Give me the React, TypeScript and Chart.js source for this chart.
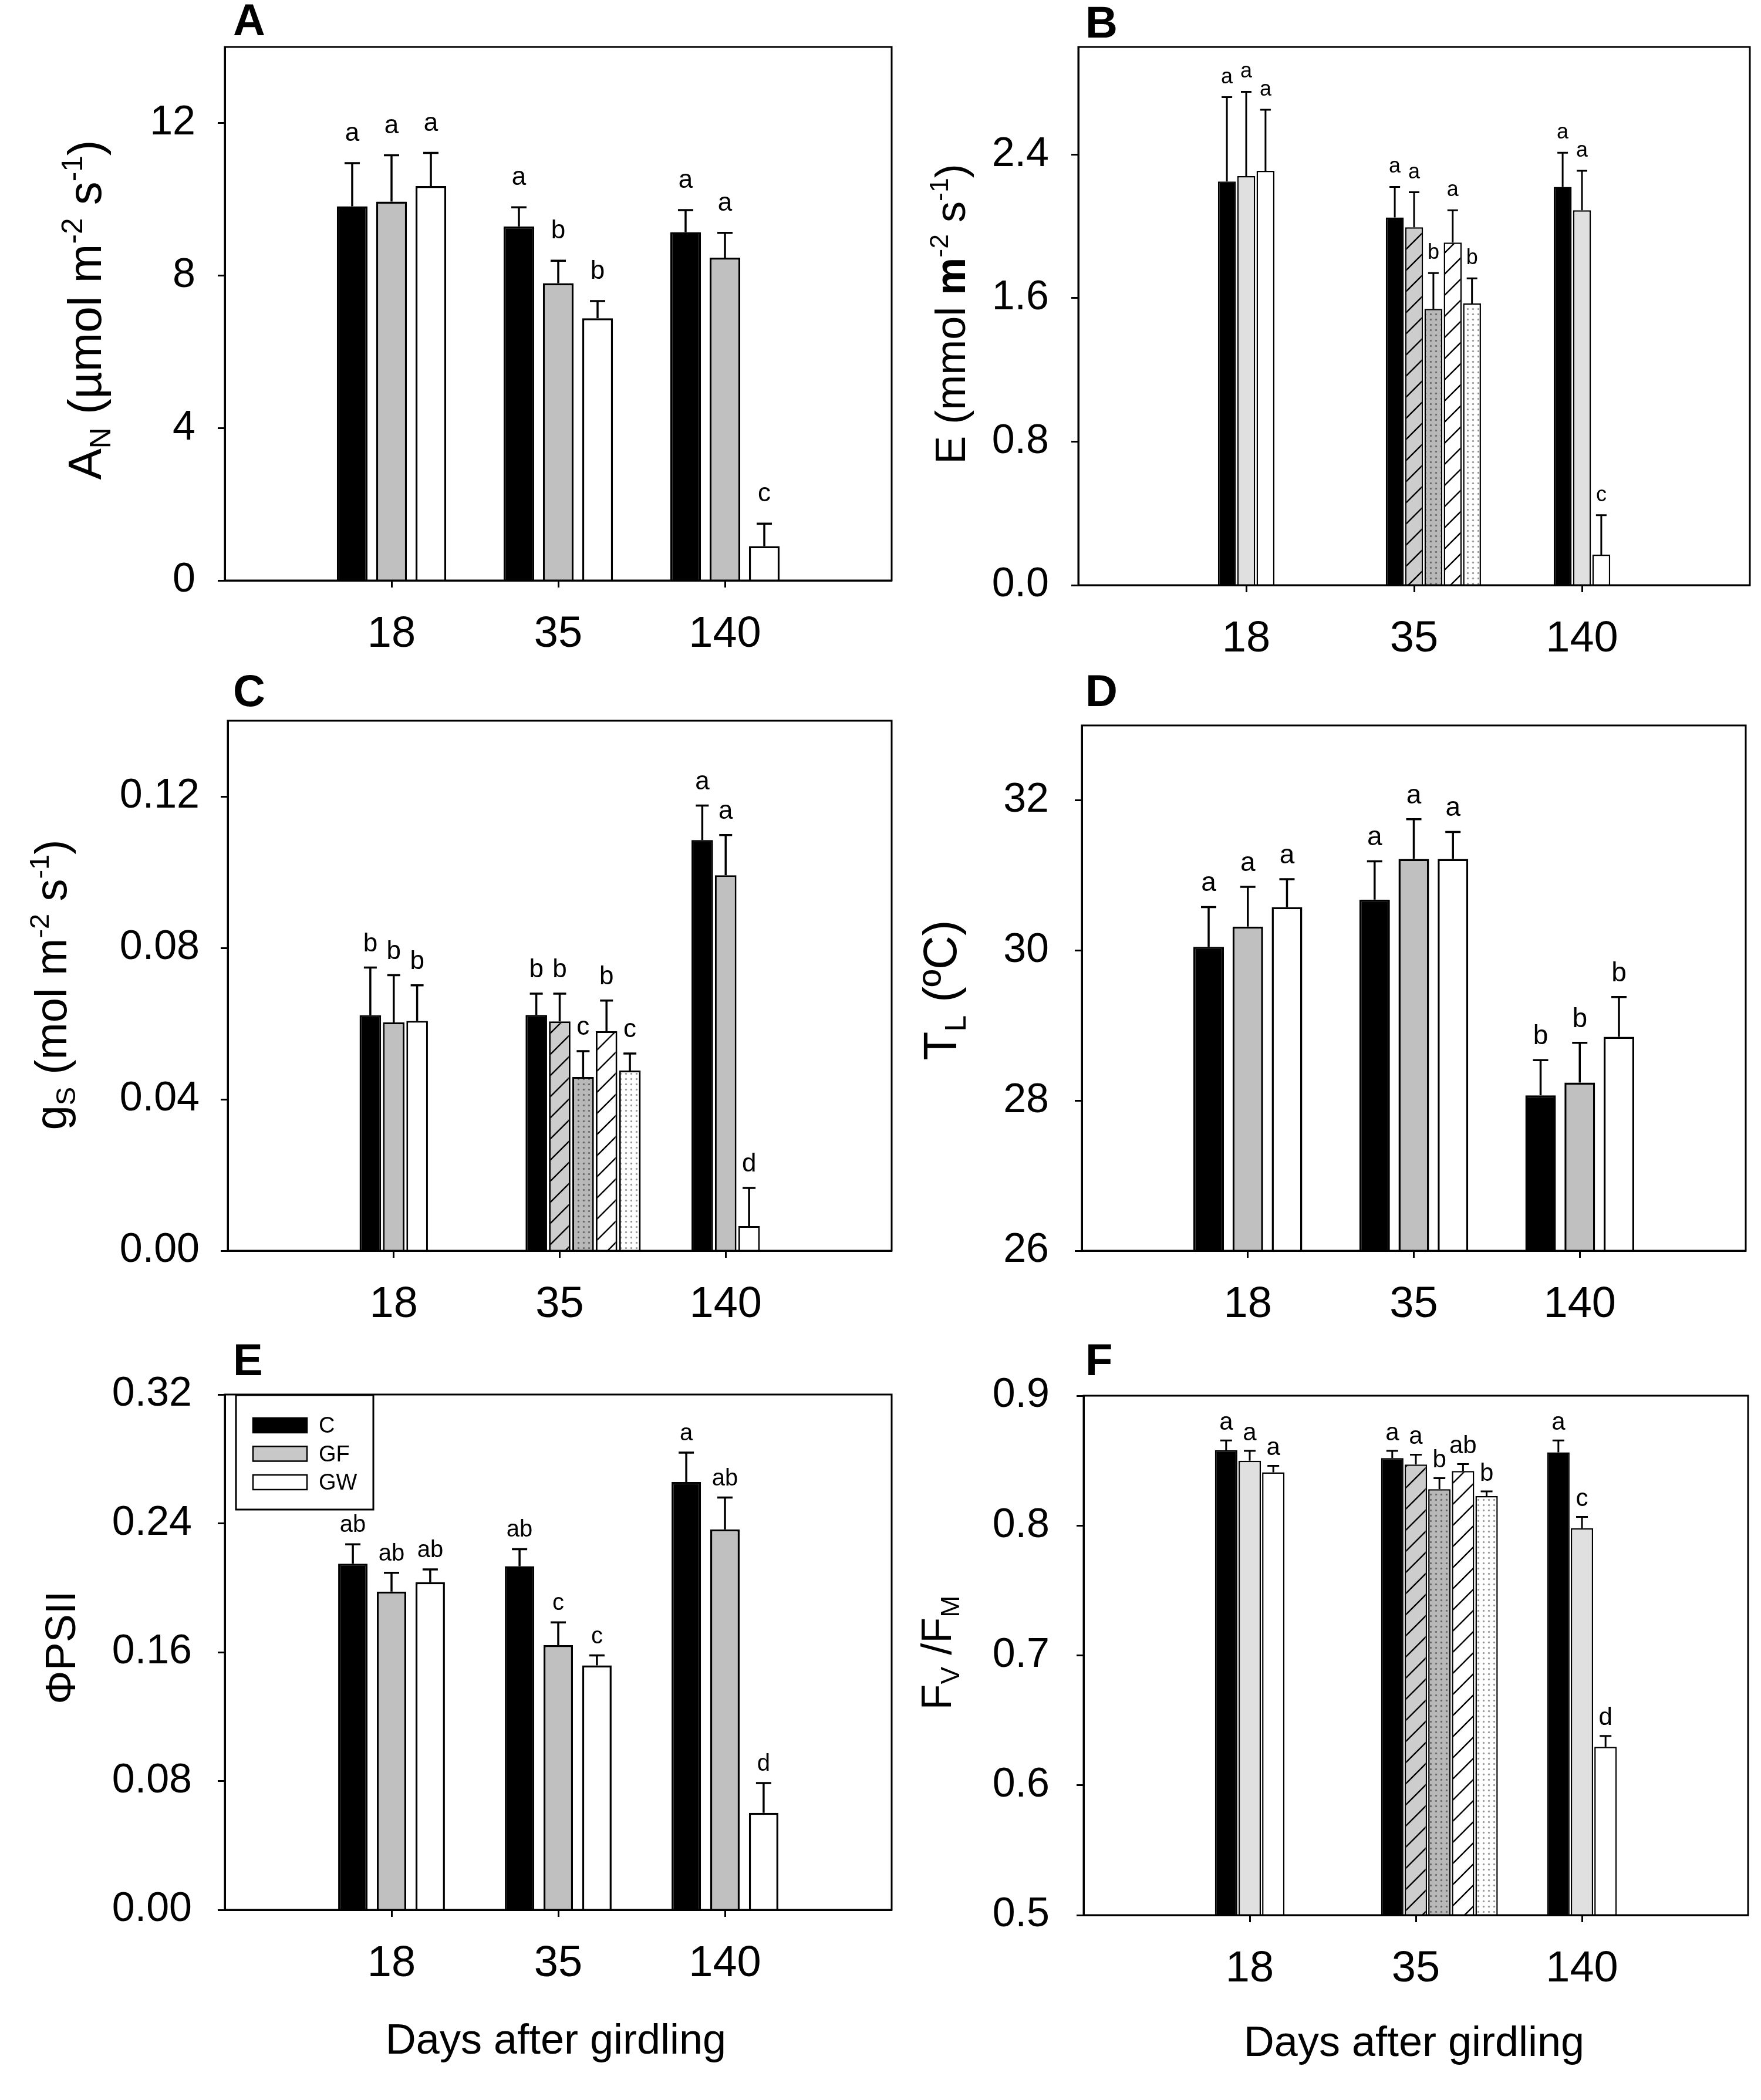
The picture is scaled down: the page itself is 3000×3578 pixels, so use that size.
'use client'
import React, { useEffect, useRef } from 'react'
import Chart from 'chart.js/auto'

const FONT = '"Liberation Sans", Arial, sans-serif'
const NARROW = '"Liberation Sans Narrow", "Liberation Sans", Arial, sans-serif'

const days = ['18', '35', '140']

// A - net assimilation
const anTicks = [0, 4, 8, 12]
const anTickLabels = ['0', '4', '8', '12']
const anC = [9.82, 9.29, 9.14]
const anCErr = [1.13, 0.5, 0.58]
const anCSig = ['a', 'a', 'a']
const anGF = [9.94, 7.8, 8.47]
const anGFErr = [1.22, 0.59, 0.65]
const anGFSig = ['a', 'b', 'a']
const anGW = [10.35, 6.88, 0.9]
const anGWErr = [0.87, 0.45, 0.59]
const anGWSig = ['a', 'b', 'c']

// B - transpiration
const eTicks = [0, 0.8, 1.6, 2.4]
const eTickLabels = ['0.0', '0.8', '1.6', '2.4']
const eC = [2.25, 2.05, 2.22]
const eCErr = [0.47, 0.17, 0.19]
const eCSig = ['a', 'a', 'a']
const eGF = [2.28, null, 2.09]
const eGFErr = [0.47, null, 0.22]
const eGFSig = ['a', '', 'a']
const eGW = [2.31, null, 0.17]
const eGWErr = [0.34, null, 0.22]
const eGWSig = ['a', '', 'c']
// day 35 split: GF hatched, GF dotted, GW hatched, GW dotted
const eSplit = [1.995, 1.54, 1.91, 1.57]
const eSplitErr = [0.195, 0.2, 0.18, 0.14]
const eSplitSig = ['a', 'b', 'a', 'b']

// C - stomatal conductance
const gsTicks = [0, 0.04, 0.08, 0.12]
const gsTickLabels = ['0.00', '0.04', '0.08', '0.12']
const gsC = [0.0622, 0.0623, 0.1085]
const gsCErr = [0.0126, 0.0056, 0.0091]
const gsCSig = ['b', 'b', 'a']
const gsGF = [0.0603, null, 0.0992]
const gsGFErr = [0.0125, null, 0.0106]
const gsGFSig = ['b', '', 'a']
const gsGW = [0.0607, null, 0.0065]
const gsGWErr = [0.0094, null, 0.0101]
const gsGWSig = ['b', '', 'd']
const gsSplit = [0.0606, 0.0459, 0.058, 0.0476]
const gsSplitErr = [0.0073, 0.0068, 0.0081, 0.0045]
const gsSplitSig = ['b', 'c', 'b', 'c']

// D - leaf temperature
const tlTicks = [26, 28, 30, 32]
const tlTickLabels = ['26', '28', '30', '32']
const tlC = [30.05, 30.68, 28.07]
const tlCErr = [0.53, 0.51, 0.47]
const tlCSig = ['a', 'a', 'b']
const tlGF = [30.32, 31.22, 28.24]
const tlGFErr = [0.53, 0.53, 0.53]
const tlGFSig = ['a', 'a', 'b']
const tlGW = [30.58, 31.22, 28.85]
const tlGWErr = [0.37, 0.36, 0.53]
const tlGWSig = ['a', 'a', 'b']

// E - PSII efficiency
const psTicks = [0, 0.08, 0.16, 0.24, 0.32]
const psTickLabels = ['0.00', '0.08', '0.16', '0.24', '0.32']
const psC = [0.2149, 0.2134, 0.2657]
const psCErr = [0.0121, 0.0106, 0.0182]
const psCSig = ['ab', 'ab', 'a']
const psGF = [0.1976, 0.1644, 0.2363]
const psGFErr = [0.0117, 0.0141, 0.0197]
const psGFSig = ['ab', 'c', 'ab']
const psGW = [0.2035, 0.1518, 0.0602]
const psGWErr = [0.0079, 0.0062, 0.0185]
const psGWSig = ['ab', 'c', 'd']

// F - Fv/Fm
const fvTicks = [0.5, 0.6, 0.7, 0.8, 0.9]
const fvTickLabels = ['0.5', '0.6', '0.7', '0.8', '0.9']
const fvC = [0.858, 0.852, 0.8564]
const fvCErr = [0.0075, 0.0055, 0.0091]
const fvCSig = ['a', 'a', 'a']
const fvGF = [0.85, null, 0.798]
const fvGFErr = [0.0075, null, 0.0087]
const fvGFSig = ['a', '', 'c']
const fvGW = [0.841, null, 0.6296]
const fvGWErr = [0.005, null, 0.0084]
const fvGWSig = ['a', '', 'd']
const fvSplit = [0.847, 0.828, 0.842, 0.8227]
const fvSplitErr = [0.0076, 0.0085, 0.0054, 0.0036]
const fvSplitSig = ['a', 'b', 'ab', 'b']

const legendNames = ['C', 'GF', 'GW']

type Part = { t: string; s?: 'sub' | 'sup'; b?: boolean }
type Pt = { day: number; slot: number; y: number; err: number; sig: string }
type SeriesDef = { label: string; fill: string; pts: Pt[] }

interface PanelDef {
    letter: string
    frame: [number, number, number, number]
    plot: [number, number, number, number]
    yMin: number
    yMax: number
    ticks: number[]
    tickLabels: string[]
    tickPad: number
    title: Part[]
    titleSize: number
    titleX: number
    titleY: number
    letterX: number
    letterY: number
    gray: string
    step: number
    barRatio: number
    barBorder: number
    cap: number
    errWidth: number
    sigSize: number
    sigGap: number
    series: SeriesDef[]
    xTitle?: [number, number]
    legend?: boolean
}

const splitFills = ['hatchGray', 'dotGray', 'hatchWhite', 'dotWhite']

function plain(label: string, values: (number | null)[], errs: (number | null)[], sigs: string[], fill: string, slot: number): SeriesDef {
    return {
        label,
        fill,
        pts: values.flatMap((v, i) => (v == null ? [] : [{ day: i, slot, y: v, err: errs[i] ?? 0, sig: sigs[i] }]))
    }
}

function split(prefix: string, values: number[], errs: number[], sigs: string[]): SeriesDef[] {
    return values.map((v, k) => ({
        label: prefix + ' ' + splitFills[k],
        fill: splitFills[k],
        pts: [{ day: 1, slot: k, y: v, err: errs[k], sig: sigs[k] }]
    }))
}

const panels: PanelDef[] = [
    {
        letter: 'A', frame: [0, 0, 1560, 1150], plot: [383, 72, 1519, 989],
        yMin: 0, yMax: 14, ticks: anTicks, tickLabels: anTickLabels, tickPad: 38,
        title: [{ t: 'A' }, { t: 'N', s: 'sub' }, { t: ' (\u00b5mol m' }, { t: '-2', s: 'sup' }, { t: ' s' }, { t: '-1', s: 'sup' }, { t: ')' }],
        titleSize: 80, titleX: 172, titleY: 528, letterX: 397, letterY: 60,
        gray: '#c0c0c0', step: 0.236, barRatio: 0.78, barBorder: 3.5, cap: 26, errWidth: 3.5, sigSize: 44, sigGap: 50,
        series: [
            plain('C', anC, anCErr, anCSig, 'black', -1),
            plain('GF', anGF, anGFErr, anGFSig, 'gray', 0),
            plain('GW', anGW, anGWErr, anGWSig, 'white', 1)
        ]
    },
    {
        letter: 'B', frame: [1560, 0, 1440, 1150], plot: [1837, 76, 2981, 997],
        yMin: 0, yMax: 3, ticks: eTicks, tickLabels: eTickLabels, tickPad: 38,
        title: [{ t: 'E (mmol ' }, { t: 'm', b: true }, { t: '-2', s: 'sup' }, { t: ' s' }, { t: '-1', s: 'sup' }, { t: ')' }],
        titleSize: 72, titleX: 1644, titleY: 535, letterX: 1849, letterY: 64,
        gray: '#e0e0e0', step: 0.115, barRatio: 0.93, barBorder: 2.5, cap: 18, errWidth: 3, sigSize: 36, sigGap: 34,
        series: [
            plain('C', eC, eCErr, eCSig, 'black', -1),
            plain('GF', eGF, eGFErr, eGFSig, 'gray', 0),
            plain('GW', eGW, eGWErr, eGWSig, 'white', 1),
            ...split('35', eSplit, eSplitErr, eSplitSig)
        ]
    },
    {
        letter: 'C', frame: [0, 1150, 1560, 1140], plot: [388, 1216, 1519, 2131],
        yMin: 0, yMax: 0.14, ticks: gsTicks, tickLabels: gsTickLabels, tickPad: 36,
        title: [{ t: 'g' }, { t: 'S', s: 'sub' }, { t: ' (mol m' }, { t: '-2', s: 'sup' }, { t: ' s' }, { t: '-1', s: 'sup' }, { t: ')' }],
        titleSize: 76, titleX: 113, titleY: 1678, letterX: 397, letterY: 1203,
        gray: '#c0c0c0', step: 0.141, barRatio: 0.92, barBorder: 3, cap: 22, errWidth: 3.5, sigSize: 44, sigGap: 40,
        series: [
            plain('C', gsC, gsCErr, gsCSig, 'black', -1),
            plain('GF', gsGF, gsGFErr, gsGFSig, 'gray', 0),
            plain('GW', gsGW, gsGWErr, gsGWSig, 'white', 1),
            ...split('35', gsSplit, gsSplitErr, gsSplitSig)
        ]
    },
    {
        letter: 'D', frame: [1560, 1150, 1440, 1140], plot: [1843, 1216, 2974, 2131],
        yMin: 26, yMax: 33, ticks: tlTicks, tickLabels: tlTickLabels, tickPad: 44,
        title: [{ t: 'T' }, { t: 'L', s: 'sub' }, { t: ' (\u00baC)' }],
        titleSize: 80, titleX: 1629, titleY: 1687, letterX: 1849, letterY: 1203,
        gray: '#c0c0c0', step: 0.236, barRatio: 0.78, barBorder: 3.5, cap: 26, errWidth: 3.5, sigSize: 46, sigGap: 40,
        series: [
            plain('C', tlC, tlCErr, tlCSig, 'black', -1),
            plain('GF', tlGF, tlGFErr, tlGFSig, 'gray', 0),
            plain('GW', tlGW, tlGWErr, tlGWSig, 'white', 1)
        ]
    },
    {
        letter: 'E', frame: [0, 2290, 1560, 1288], plot: [383, 2364, 1519, 3254],
        yMin: 0, yMax: 0.32, ticks: psTicks, tickLabels: psTickLabels, tickPad: 44,
        title: [{ t: '\u03a6PSII' }],
        titleSize: 72, titleX: 128, titleY: 2807, letterX: 397, letterY: 2343,
        gray: '#c0c0c0', step: 0.232, barRatio: 0.76, barBorder: 3.5, cap: 26, errWidth: 3.5, sigSize: 40, sigGap: 32,
        series: [
            plain('C', psC, psCErr, psCSig, 'black', -1),
            plain('GF', psGF, psGFErr, psGFSig, 'gray', 0),
            plain('GW', psGW, psGWErr, psGWSig, 'white', 1)
        ],
        xTitle: [947, 3499], legend: true
    },
    {
        letter: 'F', frame: [1560, 2290, 1440, 1288], plot: [1846, 2365, 2978, 3263],
        yMin: 0.5, yMax: 0.9, ticks: fvTicks, tickLabels: fvTickLabels, tickPad: 46,
        title: [{ t: 'F' }, { t: 'V', s: 'sub' }, { t: ' /F' }, { t: 'M', s: 'sub' }],
        titleSize: 72, titleX: 1620, titleY: 2816, letterX: 1849, letterY: 2343,
        gray: '#e0e0e0', step: 0.142, barRatio: 0.95, barBorder: 2.5, cap: 20, errWidth: 3, sigSize: 42, sigGap: 30,
        series: [
            plain('C', fvC, fvCErr, fvCSig, 'black', -1),
            plain('GF', fvGF, fvGFErr, fvGFSig, 'gray', 0),
            plain('GW', fvGW, fvGWErr, fvGWSig, 'white', 1),
            ...split('35', fvSplit, fvSplitErr, fvSplitSig)
        ],
        xTitle: [2409, 3503]
    }
]

function tile(size: number, paint: (t: CanvasRenderingContext2D, s: number) => void) {
    const c = document.createElement('canvas')
    c.width = size
    c.height = size
    const t = c.getContext('2d') as CanvasRenderingContext2D
    paint(t, size)
    return c
}

function makeFills(ctx: CanvasRenderingContext2D, gray: string): Record<string, any> {
    const hatch = (bg: string) => ctx.createPattern(tile(36, (t, s) => {
        t.fillStyle = bg
        t.fillRect(0, 0, s, s)
        t.strokeStyle = '#000'
        t.lineWidth = 2.4
        t.beginPath()
        t.moveTo(0, s); t.lineTo(s, 0)
        t.moveTo(-s / 2, s / 2); t.lineTo(s / 2, -s / 2)
        t.moveTo(s / 2, s * 1.5); t.lineTo(s * 1.5, s / 2)
        t.stroke()
    }), 'repeat')
    const dots = (bg: string, dot: string) => ctx.createPattern(tile(9, (t, s) => {
        t.fillStyle = bg
        t.fillRect(0, 0, s, s)
        t.fillStyle = dot
        t.beginPath()
        t.arc(s / 2, s / 2, 1.7, 0, Math.PI * 2)
        t.fill()
    }), 'repeat')
    return {
        black: '#000000',
        gray,
        white: '#ffffff',
        hatchGray: hatch('#cdcdcd'),
        dotGray: dots('#b8b8b8', '#6a6a6a'),
        hatchWhite: hatch('#ffffff'),
        dotWhite: dots('#ffffff', '#9a9a9a')
    }
}

function drawRich(ctx: CanvasRenderingContext2D, parts: Part[], size: number) {
    const fontFor = (p: Part) => `${p.b ? 'bold ' : ''}${p.s ? size * 0.62 : size}px ${FONT}`
    const widths = parts.map(p => {
        ctx.font = fontFor(p)
        return ctx.measureText(p.t).width
    })
    let x = -widths.reduce((a, b) => a + b, 0) / 2
    parts.forEach((p, i) => {
        ctx.font = fontFor(p)
        const dy = p.s === 'sub' ? size * 0.2 : p.s === 'sup' ? -size * 0.4 : 0
        ctx.fillText(p.t, x, dy)
        x += widths[i]
    })
}

function decor(def: PanelDef, fills: Record<string, any>) {
    const [cx, cy] = def.frame
    return {
        id: 'decor' + def.letter,
        afterDatasetsDraw(chart: any) {
            const { ctx, chartArea: a } = chart
            const y = chart.scales.y
            ctx.save()
            ctx.strokeStyle = '#000'
            ctx.fillStyle = '#000'
            chart.data.datasets.forEach((ds: any, di: number) => {
                chart.getDatasetMeta(di).data.forEach((bar: any, j: number) => {
                    const p = ds.data[j]
                    const top = y.getPixelForValue(p.y + p.err)
                    ctx.lineWidth = def.errWidth
                    ctx.beginPath()
                    ctx.moveTo(bar.x, bar.y)
                    ctx.lineTo(bar.x, top)
                    ctx.moveTo(bar.x - def.cap / 2, top)
                    ctx.lineTo(bar.x + def.cap / 2, top)
                    ctx.stroke()
                    if (p.sig) {
                        ctx.font = `${def.sigSize}px ${NARROW}`
                        ctx.textAlign = 'center'
                        ctx.textBaseline = 'middle'
                        ctx.fillText(p.sig, bar.x, top - def.sigGap)
                    }
                })
            })
            ctx.lineWidth = 3
            ctx.strokeRect(a.left, a.top, a.right - a.left, a.bottom - a.top)
            ctx.restore()
        },
        afterDraw(chart: any) {
            const ctx: CanvasRenderingContext2D = chart.ctx
            ctx.save()
            ctx.fillStyle = '#000'
            ctx.textBaseline = 'alphabetic'
            ctx.textAlign = 'left'
            // y title, rotated
            ctx.save()
            ctx.translate(def.titleX - cx, def.titleY - cy)
            ctx.rotate(-Math.PI / 2)
            drawRich(ctx, def.title, def.titleSize)
            ctx.restore()
            // panel letter
            ctx.font = `bold 76px ${FONT}`
            ctx.fillText(def.letter, def.letterX - cx, def.letterY - cy)
            if (def.xTitle) {
                ctx.font = `72px ${FONT}`
                ctx.textAlign = 'center'
                ctx.fillText('Days after girdling', def.xTitle[0] - cx, def.xTitle[1] - cy)
            }
            if (def.legend) {
                const bx = 402 - cx
                const by = 2377 - cy
                ctx.lineWidth = 3
                ctx.strokeStyle = '#000'
                ctx.fillStyle = '#fff'
                ctx.fillRect(bx, by, 234, 195)
                ctx.strokeRect(bx, by, 234, 195)
                const swatch = [fills.black, '#c8c8c8', fills.white]
                legendNames.forEach((name, i) => {
                    const rowY = by + 51 + i * 48.5
                    ctx.fillStyle = swatch[i]
                    ctx.fillRect(bx + 29, rowY - 12, 92, 25)
                    ctx.lineWidth = 2.5
                    ctx.strokeRect(bx + 29, rowY - 12, 92, 25)
                    ctx.fillStyle = '#000'
                    ctx.font = `38px ${NARROW}`
                    ctx.textAlign = 'left'
                    ctx.fillText(name, bx + 141, rowY + 13)
                })
            }
            ctx.restore()
        }
    }
}

const Panel: React.FC<{ def: PanelDef }> = ({ def }) => {
    const chartRef = useRef<HTMLCanvasElement>(null)
    const [cx, cy, cw, ch] = def.frame
    const [pl, pt, pr, pb] = def.plot

    useEffect(() => {
        if (!chartRef.current) return
        const ctx = chartRef.current.getContext('2d')
        if (!ctx) return
        const fills = makeFills(ctx, def.gray)
        const axisLine = { display: true, color: '#000', width: 3 }
        const tickGrid = { drawOnChartArea: false, drawTicks: true, tickLength: 12, tickWidth: 3, tickColor: '#000', offset: false }

        const chart = new Chart(ctx, {
            type: 'bar',
            data: {
                datasets: def.series.map(s => ({
                    label: s.label,
                    data: s.pts.map(p => ({ x: p.day + 1 + p.slot * def.step, y: p.y, err: p.err, sig: p.sig })) as any,
                    backgroundColor: fills[s.fill],
                    borderColor: '#000',
                    borderWidth: def.barBorder,
                    base: def.yMin,
                    grouped: false,
                    categoryPercentage: 1,
                    barPercentage: def.barRatio
                }))
            },
            options: {
                responsive: false,
                animation: false,
                devicePixelRatio: 1,
                layout: { padding: { left: 0, top: pt - cy, right: cx + cw - pr, bottom: 0 } },
                plugins: { legend: { display: false }, tooltip: { enabled: false } },
                scales: {
                    x: {
                        type: 'linear',
                        min: 0,
                        max: 4,
                        offset: false,
                        afterBuildTicks: (scale: any) => { scale.ticks = days.map((_, i) => ({ value: i + 1 })) },
                        afterFit: (scale: any) => { scale.height = cy + ch - pb },
                        ticks: {
                            callback: (v: any) => days[Number(v) - 1] ?? '',
                            font: { family: FONT, size: 74 },
                            color: '#000',
                            padding: 36,
                            autoSkip: false,
                            maxRotation: 0
                        },
                        grid: tickGrid,
                        border: axisLine
                    },
                    y: {
                        type: 'linear',
                        min: def.yMin,
                        max: def.yMax,
                        afterBuildTicks: (scale: any) => { scale.ticks = def.ticks.map(v => ({ value: v })) },
                        afterFit: (scale: any) => { scale.width = pl - cx },
                        ticks: {
                            callback: (_v: any, i: number) => def.tickLabels[i],
                            font: { family: FONT, size: 70 },
                            color: '#000',
                            padding: def.tickPad,
                            autoSkip: false
                        },
                        grid: tickGrid,
                        border: axisLine
                    }
                }
            } as any,
            plugins: [decor(def, fills)]
        })

        return () => {
            chart.destroy()
        }
    }, [def])

    return (
        <canvas
            ref={chartRef}
            width={cw}
            height={ch}
            style={{ position: 'absolute', left: cx, top: cy, width: cw, height: ch }}
        />
    )
}

export default function App() {
    return (
        <div style={{ position: 'absolute', left: 0, top: 0, width: 3000, height: 3578, background: '#fff' }}>
            {panels.map(p => <Panel key={p.letter} def={p} />)}
        </div>
    )
}
